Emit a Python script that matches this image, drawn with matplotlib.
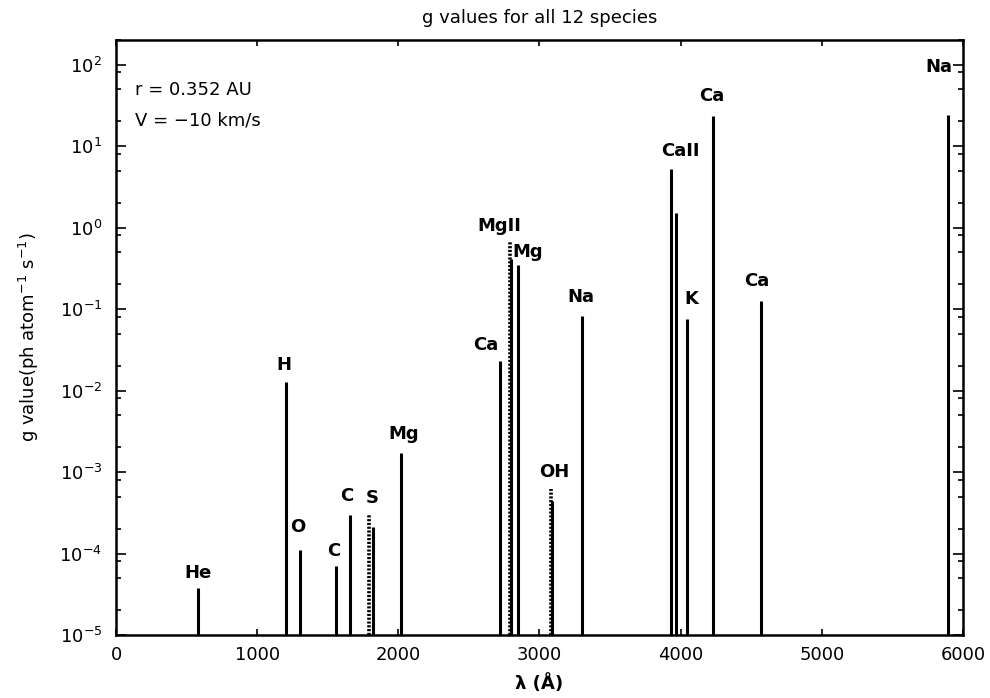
import numpy as np
import matplotlib.pyplot as plt
from matplotlib.ticker import LogLocator, FixedLocator, NullLocator, NullFormatter

plt.rcParams['font.family'] = ['DejaVu Sans']
plt.rcParams['mathtext.fontset'] = 'dejavusans'

# ========== line data: wavelength (A), g value, dotted? ==========
wavelength = [578, 1207, 1303, 1558, 1658, 1794, 1820, 2021, 2720, 2788, 2800,
              2850, 3080, 3090, 3302, 3934, 3970, 4048, 4228, 4570, 5893]
g_value = [3.8e-5, 1.29e-2, 1.1e-4, 7.1e-5, 3.0e-4, 3.0e-4, 2.1e-4, 1.7e-3, 2.3e-2,
           0.66, 0.41, 0.35, 6.2e-4, 4.4e-4, 8.1e-2, 5.2, 1.5, 7.5e-2, 23.5, 0.125, 24.0]
dotted = [False, False, False, False, False, True, False, False, False, True, False,
          False, True, False, False, False, False, False, False, False, False]

# ========== species labels ==========
label_text = ['He', 'H', 'O', 'C', 'C', 'S', 'Mg', 'Ca', 'MgII', 'Mg', 'OH',
              'Na', 'CaII', 'Ca', 'K', 'Ca', 'Na']
label_x = [581, 1190, 1289, 1544, 1636, 1813, 2040, 2621, 2713, 2918, 3103,
           3294, 3995, 4222, 4073, 4541, 5830]
label_y = [5.8e-5, 2.04e-2, 2.13e-4, 1.08e-4, 5.1e-4, 4.8e-4, 2.96e-3, 3.59e-2, 1.04,
           0.5, 1.01e-3, 0.14, 8.7, 41, 0.132, 0.22, 94]

fig = plt.figure(figsize=(9.9, 6.98), dpi=100)
ax = fig.add_axes([116/990, 63/698, 847/990, 595/698])

ymin = 1e-5
for lam, g, dot in zip(wavelength, g_value, dotted):
    if dot:
        ax.plot([lam, lam], [ymin, g], color='black', lw=2.6,
                linestyle=(0, (0.6, 0.45)), solid_capstyle='butt')
    else:
        ax.plot([lam, lam], [ymin, g], color='black', lw=2.2, solid_capstyle='butt')

for t, x, y in zip(label_text, label_x, label_y):
    ax.text(x, y, t, ha='center', va='center', fontsize=13, fontweight='bold')

ax.set_yscale('log')
ax.set_xlim(0, 6000)
ax.set_ylim(1e-5, 200)
ax.xaxis.set_major_locator(FixedLocator([0, 1000, 2000, 3000, 4000, 5000, 6000]))
ax.xaxis.set_minor_locator(NullLocator())
ax.yaxis.set_major_locator(FixedLocator([1e-5, 1e-4, 1e-3, 1e-2, 1e-1, 1, 10, 100]))
minor = [m * 10.0**e for e in range(-5, 3) for m in (2, 5, 8) if m * 10.0**e <= 200]
ax.yaxis.set_minor_locator(FixedLocator(minor))
ax.yaxis.set_minor_formatter(NullFormatter())
ax.tick_params(which='both', direction='in', top=True, right=True, labelsize=13)
ax.tick_params(axis='x', which='major', length=4, width=1.2, pad=8)
ax.tick_params(axis='y', which='major', length=7, width=1.2, pad=10)
ax.tick_params(axis='y', which='minor', length=3.5, width=1.2)
for s in ax.spines.values():
    s.set_linewidth(1.8)

ax.text(0.022, 0.916, 'r = 0.352 AU', transform=ax.transAxes, fontsize=13, va='center')
ax.text(0.022, 0.8655, 'V = \u221210 km/s', transform=ax.transAxes, fontsize=13, va='center')

ax.set_title('g values for all 12 species', fontsize=13, pad=12)
ax.set_xlabel('\u03bb (\u00c5)', fontsize=13, fontweight='bold')
ax.xaxis.set_label_coords(0.5, -0.066)
ax.set_ylabel('g value(ph atom$^{-1}$ s$^{-1}$)', fontsize=13)
ax.yaxis.set_label_coords(-0.088, 0.5)

fig.savefig('out.png', dpi=100)
